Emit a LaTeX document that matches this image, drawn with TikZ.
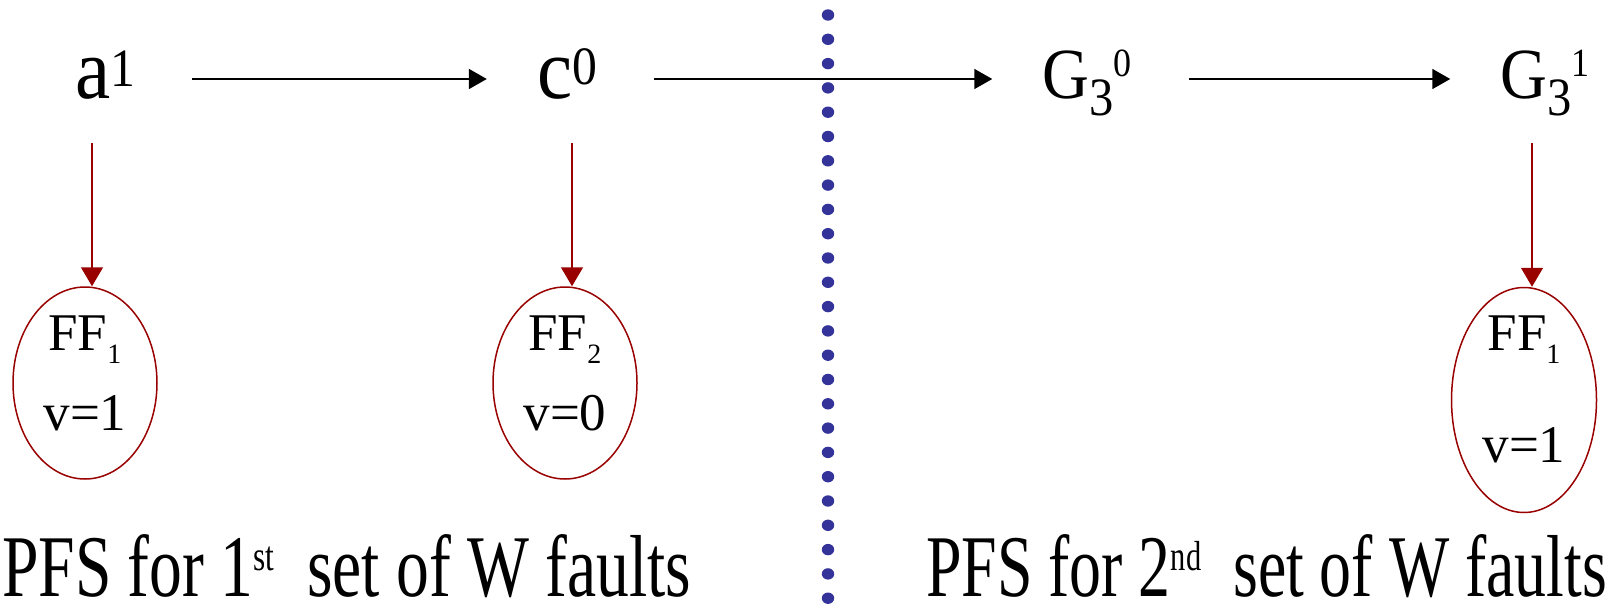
\documentclass[tikz,border=0pt]{standalone}
\usepackage{fontspec}
\setmainfont{Liberation Serif}
\usetikzlibrary{arrows.meta,shapes.geometric}

\definecolor{ffred}{RGB}{153,0,0}
\definecolor{cutblue}{RGB}{51,51,153}

% squeeze text sideways
\newcommand\sqz[2]{\scalebox{#1}[1]{#2}}
\newcommand\upby[3]{\raisebox{#1}{\fontsize{#2}{#2}\selectfont #3}}

\begin{document}
\begin{tikzpicture}[x=1pt,y=-1pt,
    sig/.style={inner sep=0pt, text height=50pt, text depth=12pt, anchor=base}, % top row labels
    ffnode/.style={draw=ffred, line width=1.5pt, ellipse, inner sep=0pt,
                   minimum width=144pt, minimum height=192pt},
    fftext/.style={font=\fontsize{53}{60}\selectfont, inner sep=0pt, anchor=base},
    caption/.style={font=\fontsize{88}{90}\selectfont, inner sep=0pt, anchor=base west},
    flow/.style={-{Triangle[length=18pt,width=20pt]}, line width=1.7pt,
                 shorten <=57pt, shorten >=50pt},
    drop/.style={ffred, line width=1.5pt, -{Triangle[length=19pt,width=22pt]}, shorten <=33pt}
]
    \useasboundingbox (0,0) rectangle (1621,605);

    % top row of values
    \node[sig] (a1) at (105,98)
        {\sqz{0.92}{\fontsize{86}{90}\selectfont a\upby{12pt}{54}{1}}};
    \node[sig] (c0) at (567,98)
        {\sqz{0.92}{\fontsize{86}{90}\selectfont c\upby{14pt}{54}{0}}};
    \node[sig] (g30) at (1087,98)
        {\sqz{0.9}{\fontsize{72}{90}\selectfont G\upby{-17pt}{54}{3}\upby{22pt}{40}{0}}};
    \node[sig] (g31) at (1545,98)
        {\sqz{0.9}{\fontsize{72}{90}\selectfont G\upby{-17pt}{54}{3}\upby{22pt}{40}{1}}};

    % flip-flops
    \node[ffnode] (ff1) at (85,383) {};
    \node[ffnode] (ff2) at (565,383) {};
    \node[ffnode, minimum width=145pt, minimum height=225pt] (ff3) at (1524,400) {};

    \node[fftext] (ff1n) at ([yshift=33pt]ff1.center) {FF\upby{-13pt}{28}{1}};
    \node[fftext] (ff1v) at ([yshift=-47pt]ff1.center) {v=1};
    \node[fftext] (ff2n) at ([yshift=33pt]ff2.center) {FF\upby{-13pt}{28}{2}};
    \node[fftext] (ff2v) at ([yshift=-47pt]ff2.center) {v=0};
    \node[fftext] (ff3n) at ([yshift=50pt]ff3.center) {FF\upby{-13pt}{28}{1}};
    \node[fftext] (ff3v) at ([yshift=-62pt]ff3.center) {v=1};

    % propagation
    \draw[flow] (a1) -- (c0);
    \draw[flow] (c0) -- (g30);
    \draw[flow] (g30) -- (g31);

    % values stored in flip-flops
    \coordinate (pin1) at ([xshift=7pt]ff1.north);
    \coordinate (pin2) at ([xshift=7pt]ff2.north);
    \coordinate (pin3) at ([xshift=8pt]ff3.north);
    \draw[drop] (a1.south -| pin1) -- (pin1);
    \draw[drop] (c0.south -| pin2) -- (pin2);
    \draw[drop] (g31.south -| pin3) -- (pin3);

    % frame boundary
    \foreach \k in {0,...,24}
        \fill[cutblue] (828,15+24.3*\k) ellipse [x radius=6.2pt, y radius=5.7pt];

    \node[caption] (cap1) at (2,596)
        {\sqz{0.745}{PFS for 1\upby{26pt}{42}{st}\ \ set of W faults}};
    \node[caption] (cap2) at (926,596)
        {\sqz{0.725}{PFS for 2\upby{26pt}{42}{nd}\ \ set of W faults}};
\end{tikzpicture}
\end{document}
